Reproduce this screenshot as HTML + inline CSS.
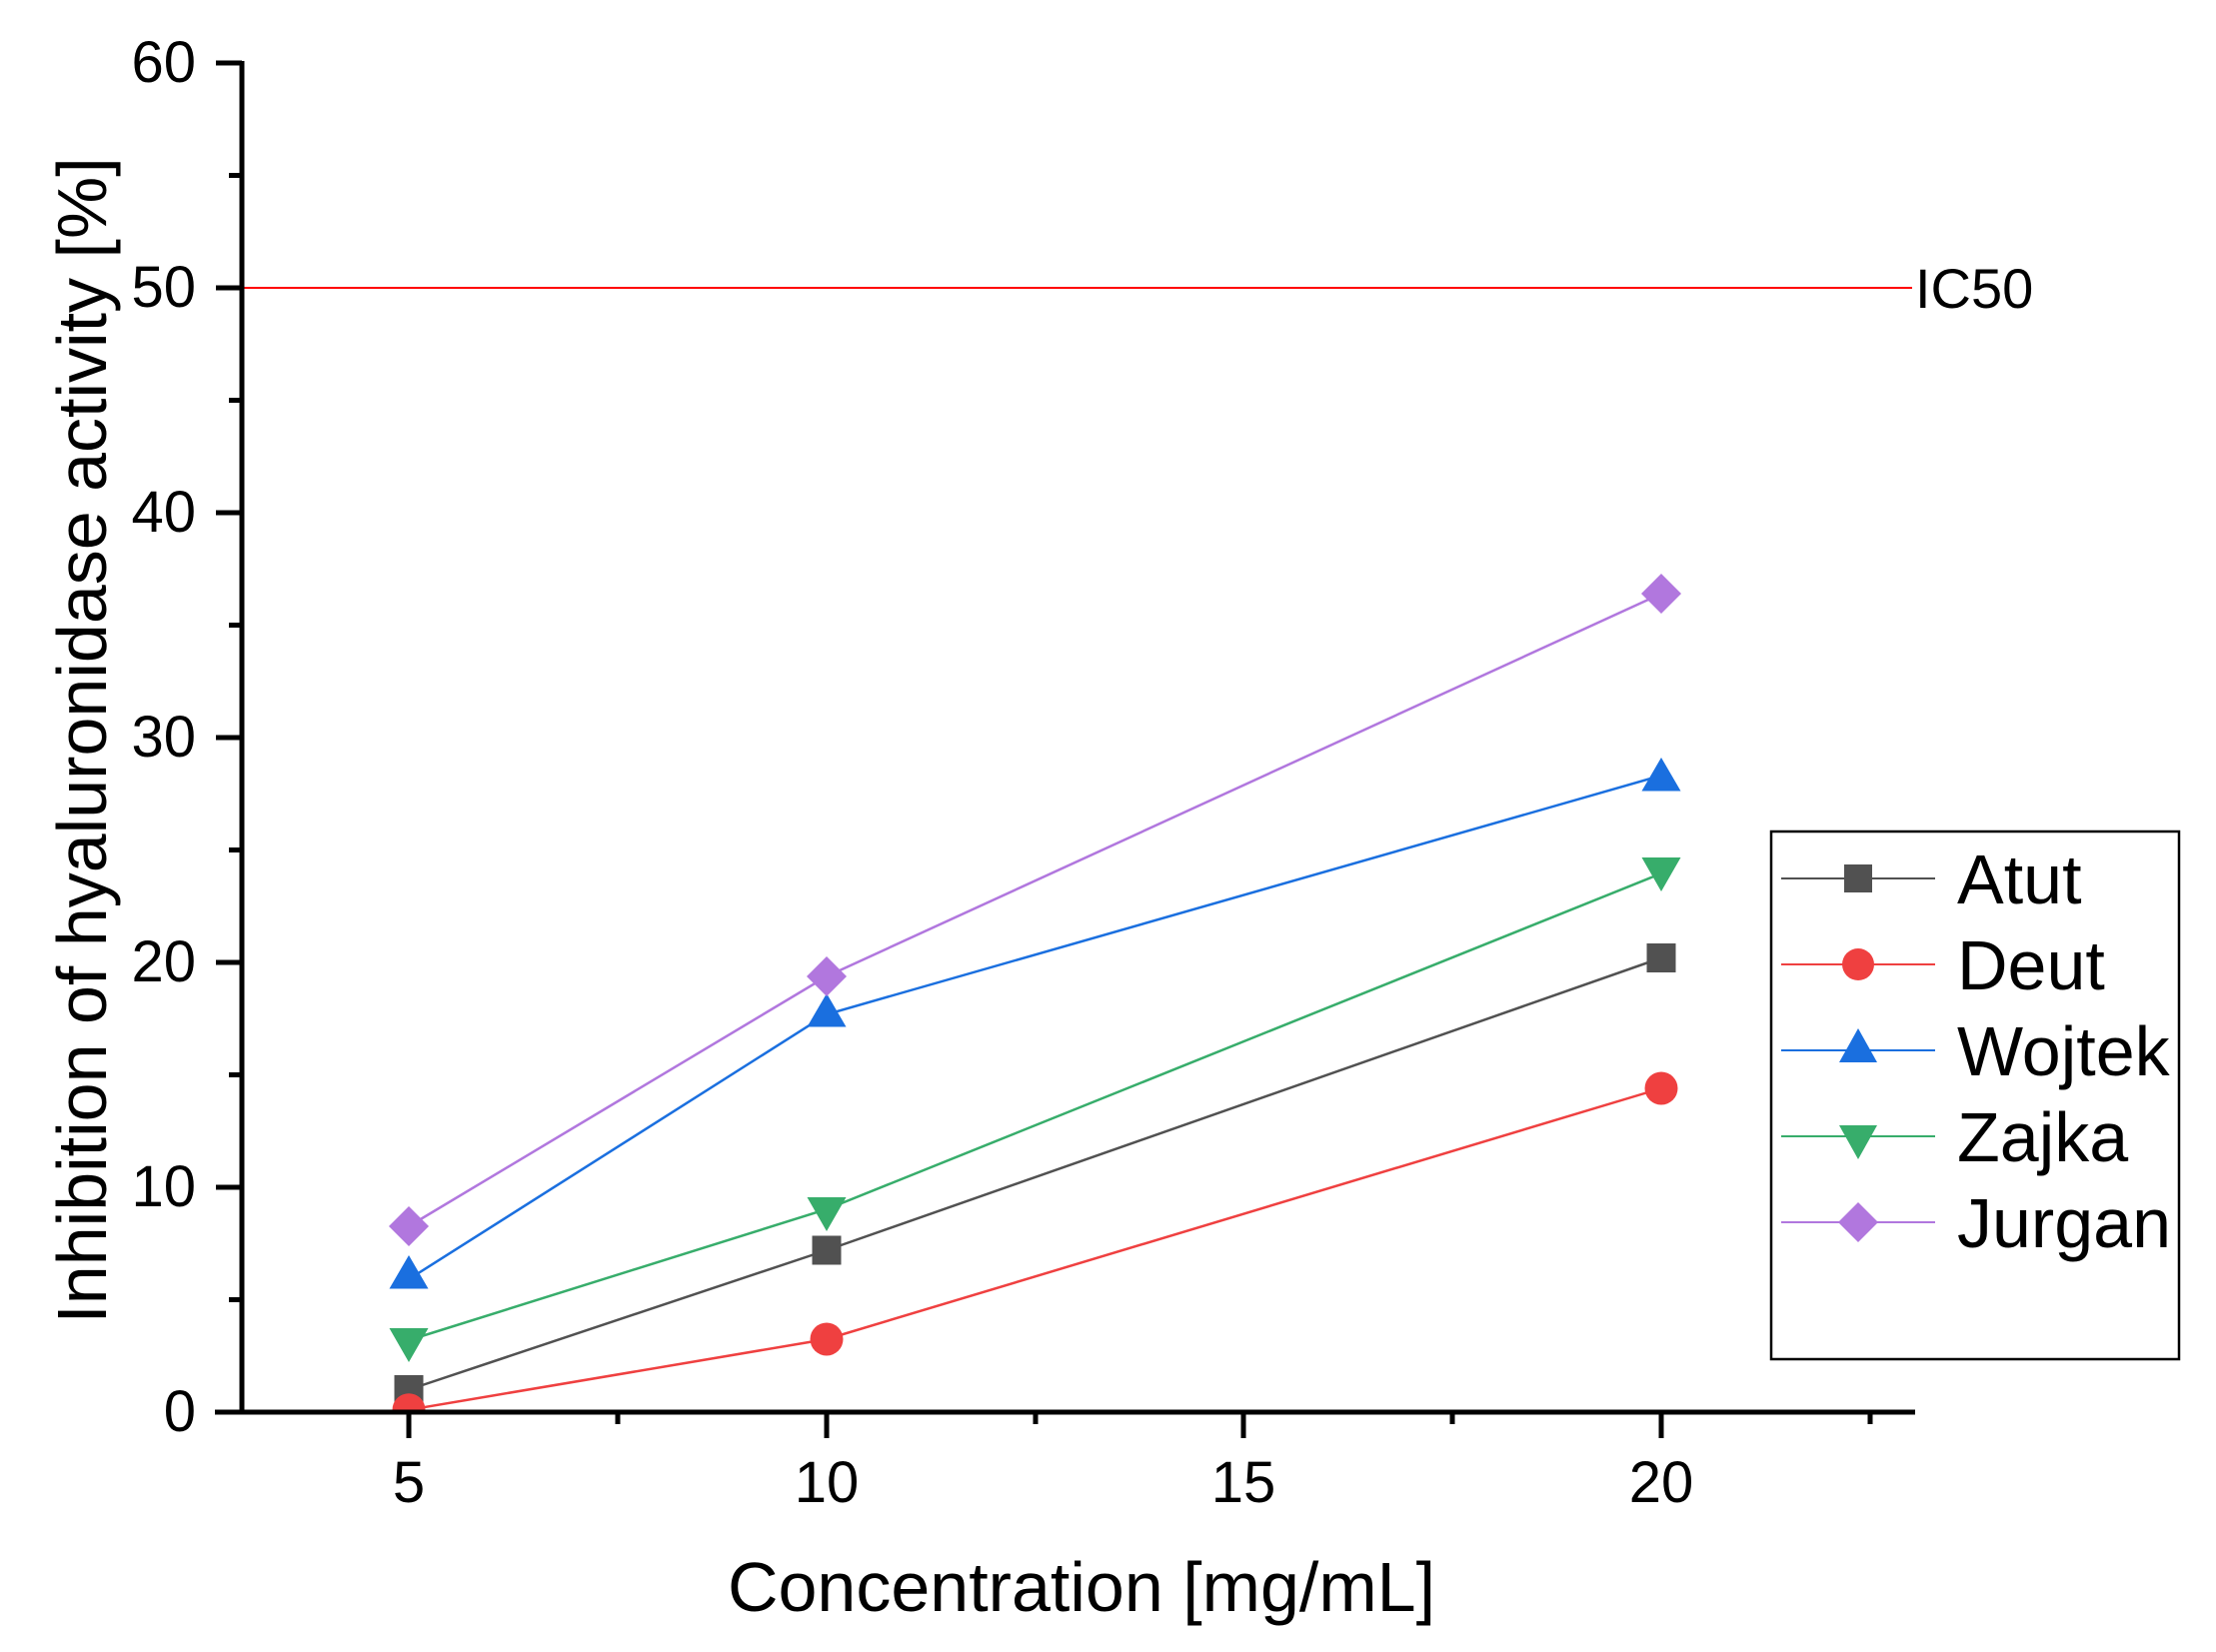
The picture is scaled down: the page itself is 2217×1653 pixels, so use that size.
<!DOCTYPE html>
<html><head><meta charset="utf-8"><style>html,body{margin:0;padding:0;background:#fff;}svg{display:block}</style></head>
<body>
<svg width="2217" height="1653" viewBox="0 0 2217 1653" xmlns="http://www.w3.org/2000/svg" font-family="'Liberation Sans', Arial, sans-serif">
<defs><clipPath id="c"><rect x="242" y="40" width="1680" height="1373"/></clipPath></defs>
<rect width="2217" height="1653" fill="#fff"/>
<line x1="242" y1="288" x2="1913" y2="288" stroke="#ff0000" stroke-width="2"/>
<text x="1916" y="308" font-size="56">IC50</text>
<g clip-path="url(#c)">
<polyline points="409,1390.5 827,1251 1662,958.5" fill="none" stroke="#515151" stroke-width="2.5"/>
<polyline points="409,1410.7 827,1340 1662,1089" fill="none" stroke="#ef4040" stroke-width="2.5"/>
<polyline points="409,1280 827,1015 1662,776" fill="none" stroke="#1a6fdf" stroke-width="2.5"/>
<polyline points="409,1341 827,1210 1662,874" fill="none" stroke="#37ad6b" stroke-width="2.5"/>
<polyline points="409,1227 827,977 1662,594" fill="none" stroke="#b177de" stroke-width="2.5"/>
<rect x="394.5" y="1376" width="29" height="29" fill="#515151"/>
<rect x="812.5" y="1236.5" width="29" height="29" fill="#515151"/>
<rect x="1647.5" y="944" width="29" height="29" fill="#515151"/>
<circle cx="409" cy="1410.7" r="16.5" fill="#ef4040"/>
<circle cx="827" cy="1340" r="16.5" fill="#ef4040"/>
<circle cx="1662" cy="1089" r="16.5" fill="#ef4040"/>
<polygon points="409,1256 389.5,1289.5 428.5,1289.5" fill="#1a6fdf"/>
<polygon points="827,994 807.5,1027.5 846.5,1027.5" fill="#1a6fdf"/>
<polygon points="1662,758 1642.5,791.5 1681.5,791.5" fill="#1a6fdf"/>
<polygon points="389.5,1329 428.5,1329 409,1363" fill="#37ad6b"/>
<polygon points="807.5,1198 846.5,1198 827,1232" fill="#37ad6b"/>
<polygon points="1642.5,858 1681.5,858 1662,892" fill="#37ad6b"/>
<polygon points="409,1207 429,1227 409,1247 389,1227" fill="#b177de"/>
<polygon points="827,957 847,977 827,997 807,977" fill="#b177de"/>
<polygon points="1662,574 1682,594 1662,614 1642,594" fill="#b177de"/>
</g>
<g stroke="#000" stroke-width="5">
<line x1="242" y1="61" x2="242" y2="1415"/>
<line x1="215" y1="1413" x2="1916" y2="1413"/>
<line x1="216" y1="63" x2="242" y2="63"/>
<line x1="229" y1="175.5" x2="242" y2="175.5"/>
<line x1="216" y1="288" x2="242" y2="288"/>
<line x1="229" y1="400.5" x2="242" y2="400.5"/>
<line x1="216" y1="513" x2="242" y2="513"/>
<line x1="229" y1="625.5" x2="242" y2="625.5"/>
<line x1="216" y1="738" x2="242" y2="738"/>
<line x1="229" y1="850.5" x2="242" y2="850.5"/>
<line x1="216" y1="963" x2="242" y2="963"/>
<line x1="229" y1="1075.5" x2="242" y2="1075.5"/>
<line x1="216" y1="1188" x2="242" y2="1188"/>
<line x1="229" y1="1300.5" x2="242" y2="1300.5"/>
<line x1="409" y1="1413" x2="409" y2="1439"/>
<line x1="618" y1="1413" x2="618" y2="1425"/>
<line x1="827" y1="1413" x2="827" y2="1439"/>
<line x1="1036" y1="1413" x2="1036" y2="1425"/>
<line x1="1244" y1="1413" x2="1244" y2="1439"/>
<line x1="1453" y1="1413" x2="1453" y2="1425"/>
<line x1="1662" y1="1413" x2="1662" y2="1439"/>
<line x1="1871" y1="1413" x2="1871" y2="1425"/>
</g>
<g font-size="58" text-anchor="end">
<text x="196" y="82">60</text>
<text x="196" y="307">50</text>
<text x="196" y="532">40</text>
<text x="196" y="757">30</text>
<text x="196" y="982">20</text>
<text x="196" y="1207">10</text>
<text x="196" y="1432">0</text>
</g>
<g font-size="58" text-anchor="middle">
<text x="409" y="1503">5</text>
<text x="827" y="1503">10</text>
<text x="1244" y="1503">15</text>
<text x="1662" y="1503">20</text>
</g>
<text x="1082" y="1612" font-size="70" text-anchor="middle">Concentration [mg/mL]</text>
<text transform="translate(106,741) rotate(-90)" font-size="70" text-anchor="middle">Inhibition of hyaluronidase activity [%]</text>
<rect x="1772" y="832" width="408" height="528" fill="#fff" stroke="#000" stroke-width="2.5"/>
<line x1="1782" y1="879" x2="1936" y2="879" stroke="#515151" stroke-width="2"/>
<rect x="1845" y="865" width="28" height="28" fill="#515151"/>
<line x1="1782" y1="965" x2="1936" y2="965" stroke="#ef4040" stroke-width="2"/>
<circle cx="1859" cy="965" r="16" fill="#ef4040"/>
<line x1="1782" y1="1051" x2="1936" y2="1051" stroke="#1a6fdf" stroke-width="2"/>
<polygon points="1859,1029 1840,1063 1878,1063" fill="#1a6fdf"/>
<line x1="1782" y1="1137" x2="1936" y2="1137" stroke="#37ad6b" stroke-width="2"/>
<polygon points="1840,1126 1878,1126 1859,1160" fill="#37ad6b"/>
<line x1="1782" y1="1223" x2="1936" y2="1223" stroke="#b177de" stroke-width="2"/>
<polygon points="1859,1203 1879,1223 1859,1243 1839,1223" fill="#b177de"/>
<g font-size="70">
<text x="1958" y="904">Atut</text>
<text x="1958" y="990">Deut</text>
<text x="1958" y="1076">Wojtek</text>
<text x="1958" y="1162">Zajka</text>
<text x="1958" y="1248">Jurgan</text>
</g>
</svg>
</body></html>
